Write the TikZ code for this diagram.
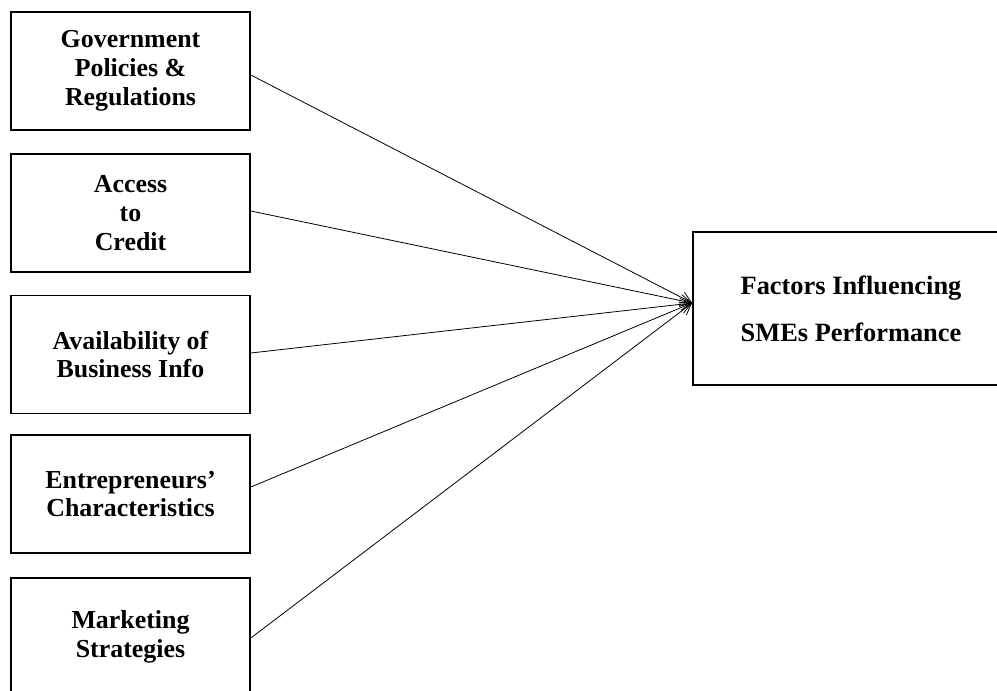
\documentclass[tikz,border=0pt]{standalone}
\usepackage{fontspec}
\setmainfont{Liberation Serif}
\usetikzlibrary{arrows.meta}
\begin{document}
\begin{tikzpicture}[x=1bp,y=-1bp,
  factor/.style={draw,line width=1.7bp,minimum width=239bp,minimum height=118bp,
    align=center,inner sep=0pt,font=\bfseries\fontsize{26}{29}\selectfont},
  outcome/.style={draw,line width=1.7bp,minimum width=316bp,minimum height=153bp,
    align=center,inner sep=0pt,font=\bfseries\fontsize{26.5}{47}\selectfont},
  link/.style={line width=0.8bp,-{Straight Barb[length=11bp,width=12bp]}}]
\useasboundingbox (0,0) rectangle (997,691);
\clip (0,0) rectangle (997,691);
\node[factor] (b1) at (130.5,71) {Government\\Policies \&\\Regulations};
\node[factor] (b2) at (130.5,213) {Access\\to\\Credit};
\node[factor] (b3) at (130.5,354.5) {Availability of\\Business Info};
\node[factor] (b4) at (130.5,494) {Entrepreneurs’\\Characteristics};
\node[factor] (b5) at (130.5,637) {Marketing\\Strategies};
\node[outcome] (f) at (851,308.5) {Factors Influencing\\SMEs Performance};
\coordinate (t) at ([yshift=5.5bp]f.west);
\draw[link] ([yshift=-4bp]b1.east) -- (t);
\draw[link] ([yshift=2bp]b2.east) -- (t);
\draw[link] ([yshift=1.5bp]b3.east) -- (t);
\draw[link] ([yshift=7bp]b4.east) -- (t);
\draw[link] ([yshift=-1bp]b5.east) -- (t);
\end{tikzpicture}
\end{document}
